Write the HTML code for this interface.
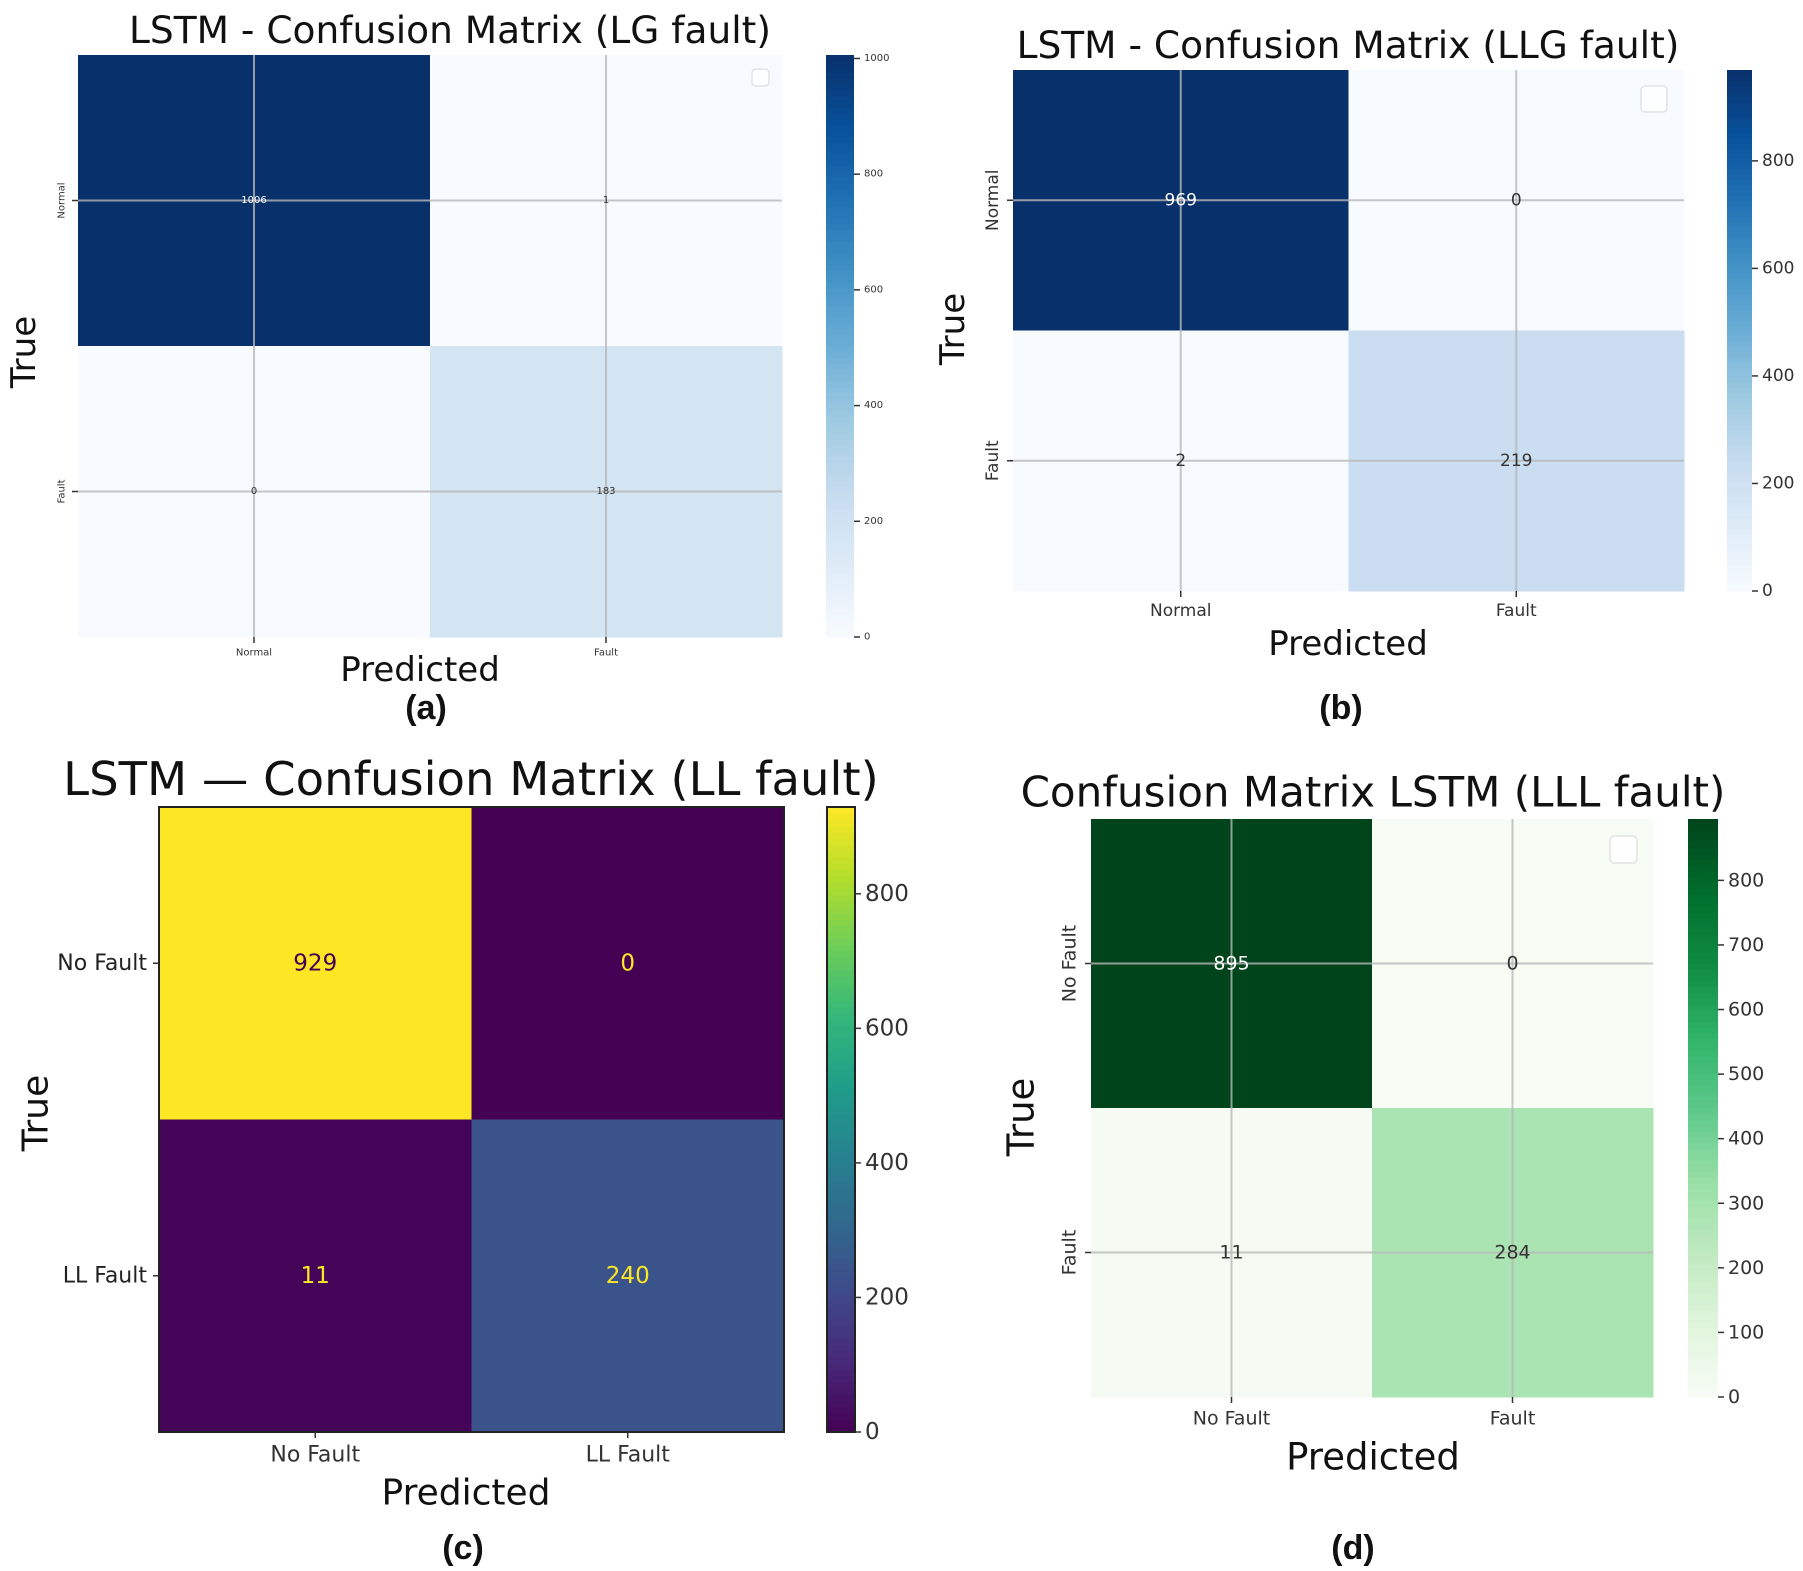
<!DOCTYPE html>
<html><head><meta charset="utf-8">
<style>
html,body{margin:0;padding:0;background:#fff;}
svg{display:block;font-family:"DejaVu Sans","Liberation Sans",sans-serif;}
</style></head>
<body>
<svg id="fig" width="1803" height="1571" viewBox="0 0 1803 1571" xmlns="http://www.w3.org/2000/svg"></svg>
<script>
// ---- data ----
const matA = [[1006, 1], [0, 183]];
const matB = [[969, 0], [2, 219]];
const matC = [[929, 0], [11, 240]];
const matD = [[895, 0], [11, 284]];
const labelsA = ["Normal", "Fault"];
const labelsB = ["Normal", "Fault"];
const labelsC = ["No Fault", "LL Fault"];
const labelsD = ["No Fault", "Fault"];
const ticksA = [0, 200, 400, 600, 800, 1000];
const ticksB = [0, 200, 400, 600, 800];
const ticksC = [0, 200, 400, 600, 800];
const ticksD = [0, 100, 200, 300, 400, 500, 600, 700, 800];

const BLUES = ["#f7fbff","#deebf7","#c6dbef","#9ecae1","#6baed6","#4292c6","#2171b5","#08519c","#08306b"];
const VIRIDIS = ["#440154","#482878","#3e4989","#31688e","#26828e","#1f9e89","#35b779","#6ece58","#b5de2b","#fde725"];
const GREENS = ["#f7fcf5","#e0f5dc","#bfe9c0","#98dfa6","#5cc88a","#2fb368","#0f8a42","#006d2c","#00441b"];

const NS = "http://www.w3.org/2000/svg";
const svg = document.getElementById("fig");
function hex(c){return [parseInt(c.slice(1,3),16),parseInt(c.slice(3,5),16),parseInt(c.slice(5,7),16)];}
function cmap(stops, t){
  t = Math.max(0, Math.min(1, t));
  const p = t*(stops.length-1), i = Math.min(Math.floor(p), stops.length-2), f = p-i;
  const a = hex(stops[i]), b = hex(stops[i+1]);
  return "rgb("+a.map((v,k)=>Math.round(v+(b[k]-v)*f)).join(",")+")";
}
function el(tag, attrs, parent){
  const e = document.createElementNS(NS, tag);
  for (const k in attrs) e.setAttribute(k, attrs[k]);
  (parent||svg).appendChild(e);
  return e;
}
function txt(s, x, y, size, opts, parent){
  const e = el("text", Object.assign({x:x, y:y, "font-size":size, "text-anchor":"middle", "dominant-baseline":"central", fill:"#111"}, opts||{}), parent);
  e.textContent = s;
  return e;
}

function panel(cfg){
  const g = el("g", {});
  
  
  const n = cfg.mat.length;
  const cw = cfg.w/n, ch = cfg.h/n;
  const vmax = cfg.vmax;
  for (let r=0;r<n;r++) for (let c=0;c<n;c++){
    const v = cfg.mat[r][c];
    const rect = el("rect", {x:cfg.x+c*cw, y:cfg.y+r*ch, width:cw+0.5, height:ch+0.5, fill:cmap(cfg.cmap, v/vmax)}, g);
    
    
  }
  if (cfg.grid){
    for (let i=0;i<n;i++){
      const cx = cfg.x+(i+0.5)*cw, cy = cfg.y+(i+0.5)*ch;
      const l1 = el("line", {x1:cx, y1:cfg.y, x2:cx, y2:cfg.y+cfg.h, stroke:"#b8b8b8", "stroke-width":2, opacity:0.8}, g);
      
      
      const l2 = el("line", {x1:cfg.x, y1:cy, x2:cfg.x+cfg.w, y2:cy, stroke:"#b8b8b8", "stroke-width":2, opacity:0.8}, g);
      
      
    }
  }
  if (cfg.border){
    const b = el("rect", {x:cfg.x, y:cfg.y, width:cfg.w, height:cfg.h, fill:"none", stroke:"#222", "stroke-width":2}, g);
    
    
  }
  for (let r=0;r<n;r++) for (let c=0;c<n;c++){
    const v = cfg.mat[r][c], t = v/vmax;
    const col = cfg.valColor ? cfg.valColor(t) : (t>0.5 ? "#fff" : "#333");
    const tv = txt(String(v), cfg.x+(c+0.5)*cw, cfg.y+(r+0.5)*ch, cfg.valSize, {fill:col}, g);
    
    
  }
  for (let i=0;i<n;i++){
    const cx = cfg.x+(i+0.5)*cw, cy = cfg.y+(i+0.5)*ch;
    el("line", {x1:cx, y1:cfg.y+cfg.h, x2:cx, y2:cfg.y+cfg.h+6, stroke:"#333", "stroke-width":1.5}, g);
    el("line", {x1:cfg.x-6, y1:cy, x2:cfg.x, y2:cy, stroke:"#333", "stroke-width":1.5}, g);
    const xl = txt(cfg.labels[i], cx, cfg.y+cfg.h+cfg.tickSize*0.6+10, cfg.tickSize, {fill:"#333"}, g);
    
    
    let yl;
    if (cfg.rotY){
      const lx = cfg.x-10-cfg.tickSize*0.6;
      yl = txt(cfg.labels[i], lx, cy, cfg.tickSize, {fill:"#333", transform:"rotate(-90 "+lx+" "+cy+")"}, g);
    } else {
      yl = txt(cfg.labels[i], cfg.x-12, cy, cfg.tickSize, {fill:"#222", "text-anchor":"end"}, g);
    }
    
    
  }
  const steps = 100;
  for (let k=0;k<steps;k++){
    const s = el("rect", {x:cfg.cbX, y:cfg.y+cfg.h*(1-(k+1)/steps), width:cfg.cbW, height:cfg.h/steps+0.6, fill:cmap(cfg.cmap,(k+0.5)/steps)}, g);
    
    
  }
  if (cfg.border){
    el("rect", {x:cfg.cbX, y:cfg.y, width:cfg.cbW, height:cfg.h, fill:"none", stroke:"#222", "stroke-width":2}, g);
  }
  cfg.ticks.forEach(tv=>{
    const ty = cfg.y+cfg.h*(1-tv/vmax);
    el("line", {x1:cfg.cbX+cfg.cbW, y1:ty, x2:cfg.cbX+cfg.cbW+6, y2:ty, stroke:"#333", "stroke-width":1.5}, g);
    const tl = txt(String(tv), cfg.cbX+cfg.cbW+10, ty, cfg.cbSize, {fill:"#333", "text-anchor":"start"}, g);
    
    
  });
  if (cfg.legend){
    const lb = el("rect", {x:cfg.legend[0], y:cfg.legend[1], width:cfg.legend[2], height:cfg.legend[2], rx:4, fill:"#fff", stroke:"#ddd", "stroke-width":1.5, opacity:0.8}, g);
    
    
  }
  const t = txt(cfg.title, cfg.titleX, cfg.titleY, cfg.titleSize, {fill:"#111"}, g);
  
  
  const yt = txt("True", cfg.trueX, cfg.trueY, cfg.axSize, {fill:"#111", transform:"rotate(-90 "+cfg.trueX+" "+cfg.trueY+")"}, g);
  
  
  const xt = txt("Predicted", cfg.predX, cfg.predY, cfg.axSize, {fill:"#111"}, g);
  
  
  const cap = txt(cfg.cap, cfg.capX, cfg.capY, 34, {fill:"#111", "font-weight":"bold", "font-family":"Liberation Sans, sans-serif"}, g);
  
  
}

panel({name:"panel-a-lg-fault", mat:matA, labels:labelsA, ticks:ticksA, cmap:BLUES, vmax:1006,
  x:78, y:55, w:704, h:582, cbX:826, cbW:28, grid:true, rotY:true, valSize:10, tickSize:10, cbSize:10,
  legend:[752,69,17], title:"LSTM - Confusion Matrix (LG fault)", titleX:450, titleY:30, titleSize:37.5,
  trueX:24, trueY:352, axSize:34, predX:420, predY:670, cap:"(a)", capX:426, capY:708});
panel({name:"panel-b-llg-fault", mat:matB, labels:labelsB, ticks:ticksB, cmap:BLUES, vmax:969,
  x:1013, y:70, w:671, h:521, cbX:1727, cbW:25, grid:true, rotY:true, valSize:17, tickSize:17, cbSize:17,
  legend:[1641,86,26], title:"LSTM - Confusion Matrix (LLG fault)", titleX:1348, titleY:45, titleSize:37.5,
  trueX:953, trueY:329, axSize:34, predX:1348, predY:644, cap:"(b)", capX:1341, capY:708});
panel({name:"panel-c-ll-fault", mat:matC, labels:labelsC, ticks:ticksC, cmap:VIRIDIS, vmax:929,
  x:159, y:807, w:625, h:625, cbX:827, cbW:28, border:true, rotY:false, valSize:23, tickSize:22, cbSize:23,
  valColor:t=>t>0.5?"#440154":"#fde725",
  title:"LSTM — Confusion Matrix (LL fault)", titleX:471, titleY:779, titleSize:46.5,
  trueX:36, trueY:1113, axSize:36, predX:466, predY:1493, cap:"(c)", capX:463, capY:1548});
panel({name:"panel-d-lll-fault", mat:matD, labels:labelsD, ticks:ticksD, cmap:GREENS, vmax:895,
  x:1091, y:819, w:562, h:578, cbX:1688, cbW:30, grid:true, rotY:true, valSize:19, tickSize:19, cbSize:19,
  legend:[1610,836,27], title:"Confusion Matrix LSTM (LLL fault)", titleX:1373, titleY:792, titleSize:42,
  trueX:1021, trueY:1117, axSize:37, predX:1373, predY:1457, cap:"(d)", capX:1353, capY:1548});
</script>
</body></html>
